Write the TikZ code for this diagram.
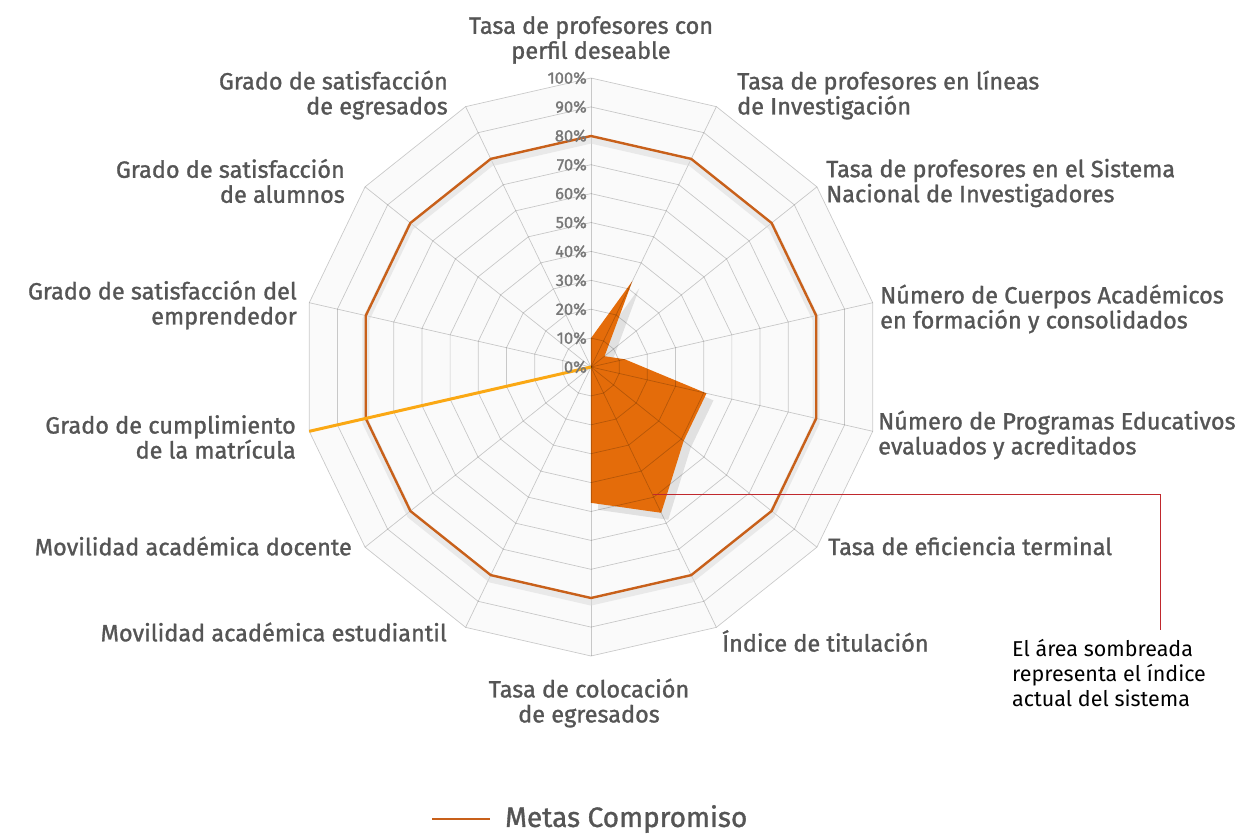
\documentclass[tikz,border=0pt]{standalone}
\usepackage{fontspec}
\setmainfont{Fira Sans}
\newfontfamily\gruesa{Fira Sans}[FakeBold=1.2]
\usetikzlibrary{shadows}
\definecolor{etiqueta}{RGB}{85,85,85}
\definecolor{meta}{RGB}{200,96,26}
\definecolor{indice}{RGB}{228,108,10}
\definecolor{matri}{RGB}{250,168,20}
\definecolor{nota}{RGB}{192,40,45}

\begin{document}
\begin{tikzpicture}[x=1pt,y=1pt]
  \useasboundingbox (-591,-469) rectangle (651,367);
  \tikzset{Eje/.style={text=etiqueta, font=\gruesa\fontsize{23.5}{25}\selectfont, inner sep=0pt},
    Pct/.style={text=etiqueta!80, font=\gruesa\fontsize{16.5}{16}\selectfont, inner sep=0pt, anchor=east},
    Red/.style={black, opacity=.2, line width=.7pt}}
  \fill[gray!4] (90:289) \foreach \i in {1,...,13}{ -- ({90-\i*360/14}:289)} -- cycle;
  \fill[indice, drop shadow={shadow xshift=7pt, shadow yshift=-7pt, opacity=.2}]
    (90:28.9) \foreach \v [count=\i] in {33,6,12,41,41,56,47,0,0,0,0,0,0}{ -- ({90-\i*360/14}:\v*2.89)} -- cycle;
  \foreach \r in {1,...,10}
    \draw[Red] (90:\r*28.9) \foreach \i in {1,...,13}{ -- ({90-\i*360/14}:\r*28.9)} -- cycle;
  \foreach \i in {0,...,13}
    \draw[Red] (0,0) -- ({90-\i*360/14}:289);
  \draw[gray!30, line width=7pt, opacity=.5, yshift=-4pt] (90:231) \foreach \i in {1,...,13}{ -- ({90-\i*360/14}:231)} -- cycle;
  \draw[meta, line width=2.4pt, line join=round] (90:231) \foreach \i in {1,...,13}{ -- ({90-\i*360/14}:231)} -- cycle;
  \coordinate (centro) at (0,0);
  \coordinate (tope) at ({90-10*360/14}:289);
  \draw[matri, line width=3pt] (centro) -- (tope);
  \foreach \r in {0,...,10}{
    \pgfmathtruncatemacro\p{10*\r}
    \node[Pct] (p\r) at (-4,\r*28.9) {\p\%};
  }
  \node[Eje, align=center] (perfil) at (0,327) {Tasa de profesores con\\perfil deseable};
  \node[Eje, align=left, anchor=west] (lineas) at (146,272) {Tasa de profesores en líneas\\de Investigación};
  \node[Eje, align=left, anchor=west] (sni) at (235,184) {Tasa de profesores en el Sistema\\Nacional de Investigadores};
  \node[Eje, align=left, anchor=west] (cuerpos) at (289,58) {Número de Cuerpos Académicos\\en formación y consolidados};
  \node[Eje, align=left, anchor=west] (programas) at (287,-68) {Número de Programas Educativos\\evaluados y acreditados};
  \node[Eje, anchor=west] (eficiencia) at (237,-179) {Tasa de eficiencia terminal};
  \node[Eje, anchor=west] (titulacion) at (131,-274) {Índice de titulación};
  \node[Eje, align=center] (colocacion) at (-2,-336) {Tasa de colocación\\de egresados};
  \node[Eje, anchor=east] (movest) at (-144,-265) {Movilidad académica estudiantil};
  \node[Eje, anchor=east] (movdoc) at (-239,-179) {Movilidad académica docente};
  \node[Eje, align=right, anchor=east] (matricula) at (-295,-70) {Grado de cumplimiento\\de la matrícula};
  \node[Eje, align=right, anchor=east] (emprendedor) at (-294,62) {Grado de satisfacción del\\emprendedor};
  \node[Eje, align=right, anchor=east] (alumnos) at (-246,186) {Grado de satisfacción\\de alumnos};
  \node[Eje, align=right, anchor=east] (egresados) at (-143,272) {Grado de satisfacción\\de egresados};
  \node[align=left, anchor=north west, inner sep=0pt, font=\fontsize{21.5}{25}\selectfont] (sombra) at (421,-272)
    {El área sombreada\\representa el índice\\actual del sistema};
  \coordinate (pin) at (62,-127);
  \coordinate (codo) at (569,-127);
  \draw[nota, line width=.8pt] (pin) -- (codo) -- (codo |- 0,-263);
  \node[anchor=west, inner sep=0pt, text=etiqueta, font=\gruesa\fontsize{28}{28}\selectfont] (leyenda) at (-86,-452) {Metas Compromiso};
  \draw[meta, line width=2.5pt] ([xshift=-15pt]leyenda.west) -- ++(-58,0);
\end{tikzpicture}
\end{document}
